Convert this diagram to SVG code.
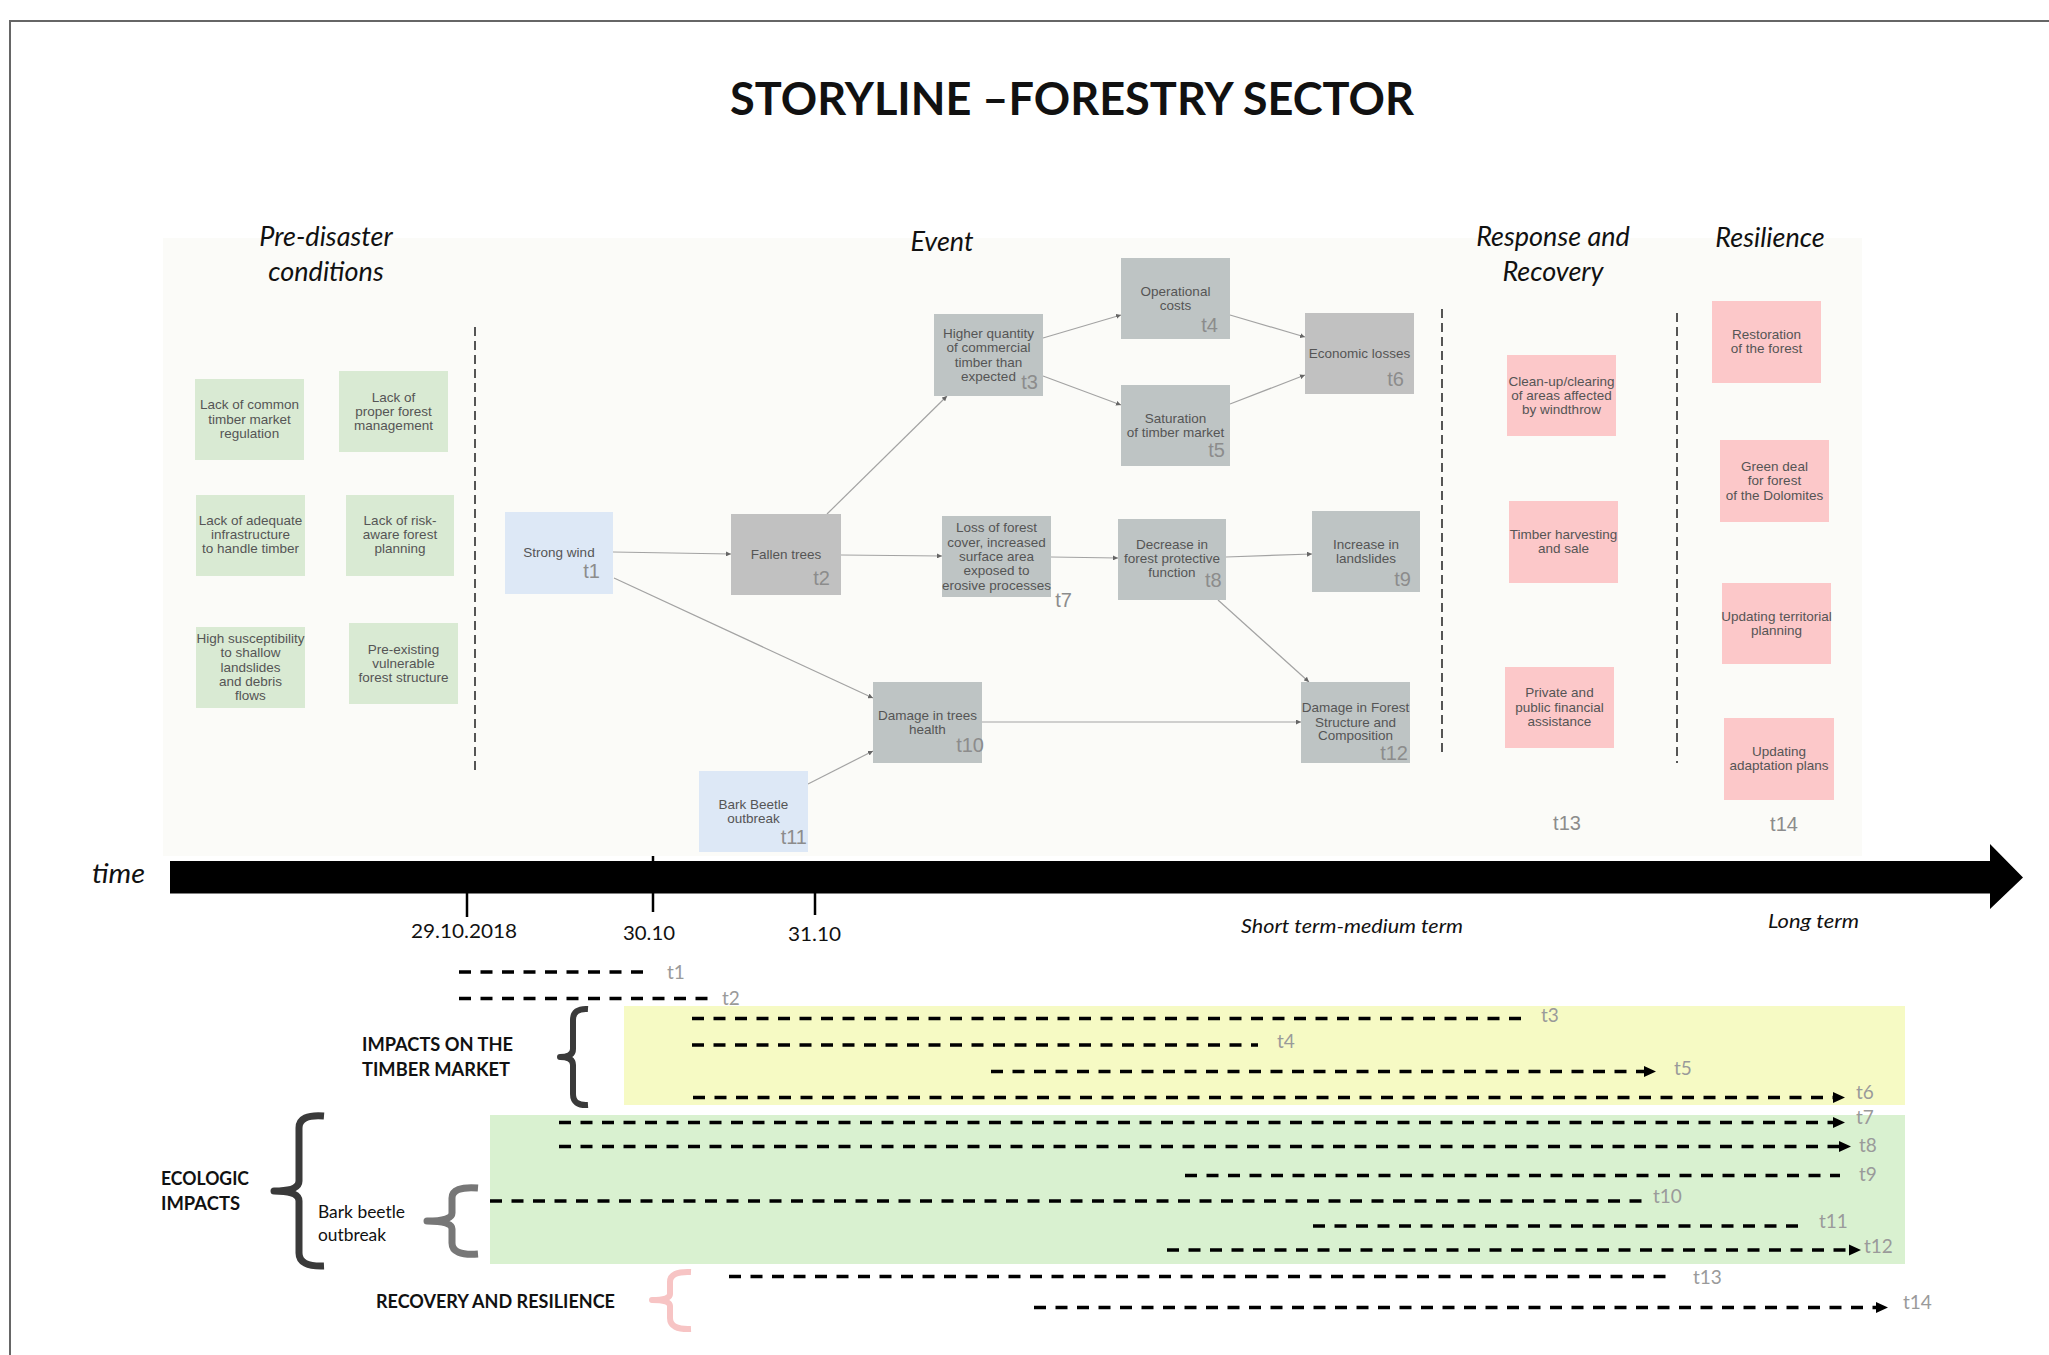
<svg xmlns="http://www.w3.org/2000/svg" width="2049" height="1355" viewBox="0 0 2049 1355">
<defs>
<style>
.nd text{font-family:"Liberation Sans",Arial,sans-serif;font-size:13.5px;fill:#555;text-anchor:middle}
.nd text.tl{font-size:20px;fill:#8c8c8c;text-anchor:end}
.gr rect{fill:#d9ead3}
.bl rect{fill:#dde8f6}
.gy rect{fill:#bec4c4}
.gy2 rect{fill:#c1c1c1}
.pk rect{fill:#fcc8c9}
.hd{font-family:Lato,"Liberation Sans",sans-serif;font-style:italic;font-size:27px;fill:#111;text-anchor:middle}
.cal{font-family:Lato,"Liberation Sans",sans-serif;fill:#111}
.lab{font-family:Lato,"Liberation Sans",sans-serif;font-size:19px;fill:#9a9a9a}
.con line{stroke:#a3a3a3;stroke-width:1.2;marker-end:url(#ah)}
.dl line{stroke:#000;stroke-width:3.5;stroke-dasharray:12 9.5}
.vd{stroke:#555;stroke-width:2;stroke-dasharray:9 5;fill:none}
.br{fill:none;stroke-linecap:butt;stroke-linejoin:round}
</style>
<marker id="ah" viewBox="0 0 6 6" refX="6" refY="3" markerWidth="5" markerHeight="5" markerUnits="userSpaceOnUse" orient="auto">
<path d="M0,0 L6,3 L0,6 z" fill="#666"/>
</marker>
</defs>
<rect width="2049" height="1355" fill="#fff"/>
<path d="M10,1355 L10,21 L2049,21" fill="none" stroke="#666" stroke-width="2"/>
<text x="730" y="115" class="cal" font-weight="700" font-size="45" textLength="684" lengthAdjust="spacingAndGlyphs">STORYLINE –FORESTRY SECTOR</text>
<rect x="163" y="238" width="1699" height="618" fill="#fbfbf8"/>

<g id="headings">
<text class="hd" x="326" y="246">Pre-disaster</text>
<text class="hd" x="326" y="281">conditions</text>
<text class="hd" x="942" y="251">Event</text>
<text class="hd" x="1553" y="246">Response and</text>
<text class="hd" x="1553" y="281">Recovery</text>
<text class="hd" x="1770" y="247">Resilience</text>
</g>
<g id="dividers">
<line class="vd" x1="475" y1="327" x2="475" y2="774"/>
<line class="vd" x1="1442" y1="309" x2="1442" y2="757"/>
<line class="vd" x1="1677" y1="313" x2="1677" y2="763"/>
</g>

<g id="connectors" class="con">
<line x1="613" y1="552" x2="731" y2="554"/>
<line x1="614" y1="578" x2="873" y2="698"/>
<line x1="841" y1="555" x2="942" y2="556"/>
<line x1="827" y1="514" x2="947" y2="396"/>
<line x1="1043" y1="338" x2="1121" y2="315"/>
<line x1="1043" y1="376" x2="1121" y2="405"/>
<line x1="1230" y1="315" x2="1305" y2="337"/>
<line x1="1230" y1="404" x2="1305" y2="375"/>
<line x1="1051" y1="557" x2="1118" y2="558"/>
<line x1="1226" y1="557" x2="1312" y2="554"/>
<line x1="1218" y1="600" x2="1309" y2="682"/>
<line x1="982" y1="722" x2="1301" y2="722"/>
<line x1="808" y1="784" x2="873" y2="751"/>
</g>

<g id="g1" class="nd gr"><rect x="195" y="379" width="109" height="81"/><text x="249.5" y="409">Lack of common</text><text x="249.5" y="423.5">timber market</text><text x="249.5" y="438">regulation</text></g>
<g id="g2" class="nd gr"><rect x="339" y="371" width="109" height="81"/><text x="393.5" y="402">Lack of</text><text x="393.5" y="416">proper forest</text><text x="393.5" y="430">management</text></g>
<g id="g3" class="nd gr"><rect x="196" y="495" width="109" height="81"/><text x="250.5" y="525">Lack of adequate</text><text x="250.5" y="539">infrastructure</text><text x="250.5" y="553">to handle timber</text></g>
<g id="g4" class="nd gr"><rect x="346" y="495" width="108" height="81"/><text x="400" y="525">Lack of risk-</text><text x="400" y="539">aware forest</text><text x="400" y="553">planning</text></g>
<g id="g5" class="nd gr"><rect x="196" y="627" width="109" height="81"/><text x="250.5" y="643">High susceptibility</text><text x="250.5" y="657">to shallow</text><text x="250.5" y="672">landslides</text><text x="250.5" y="686">and debris</text><text x="250.5" y="700">flows</text></g>
<g id="g6" class="nd gr"><rect x="349" y="623" width="109" height="81"/><text x="403.5" y="654">Pre-existing</text><text x="403.5" y="668">vulnerable</text><text x="403.5" y="682">forest structure</text></g>

<g id="n1" class="nd bl"><rect x="505" y="512" width="108" height="82"/><text x="559" y="557">Strong wind</text><text class="tl" x="600" y="578">t1</text></g>
<g id="n2" class="nd gy2"><rect x="731" y="514" width="110" height="81"/><text x="786" y="558.5">Fallen trees</text><text class="tl" x="830" y="585">t2</text></g>
<g id="n3" class="nd gy"><rect x="934" y="314" width="109" height="82"/><text x="988.5" y="338">Higher quantity</text><text x="988.5" y="352">of commercial</text><text x="988.5" y="366.5">timber than</text><text x="988.5" y="380.5">expected</text><text class="tl" x="1038" y="389">t3</text></g>
<g id="n4" class="nd gy"><rect x="1121" y="258" width="109" height="81"/><text x="1175.5" y="295.6">Operational</text><text x="1175.5" y="310">costs</text><text class="tl" x="1218" y="332">t4</text></g>
<g id="n5" class="nd gy"><rect x="1121" y="385" width="109" height="81"/><text x="1175.5" y="422.5">Saturation</text><text x="1175.5" y="437">of timber market</text><text class="tl" x="1225" y="456.6">t5</text></g>
<g id="n6" class="nd gy2"><rect x="1305" y="313" width="109" height="81"/><text x="1359.5" y="357.7">Economic losses</text><text class="tl" x="1404" y="386">t6</text></g>
<g id="n7" class="nd gy"><rect x="942" y="516" width="109" height="81"/><text x="996.5" y="532">Loss of forest</text><text x="996.5" y="546.7">cover, increased</text><text x="996.5" y="561">surface area</text><text x="996.5" y="575">exposed to</text><text x="996.5" y="590">erosive processes</text><text class="tl" x="1072" y="607">t7</text></g>
<g id="n8" class="nd gy"><rect x="1118" y="519" width="108" height="81"/><text x="1172" y="549">Decrease in</text><text x="1172" y="563">forest protective</text><text x="1172" y="577">function</text><text class="tl" x="1221.7" y="587">t8</text></g>
<g id="n9" class="nd gy"><rect x="1312" y="511" width="108" height="81"/><text x="1366" y="549">Increase in</text><text x="1366" y="563">landslides</text><text class="tl" x="1411" y="586">t9</text></g>
<g id="n10" class="nd gy"><rect x="873" y="682" width="109" height="81"/><text x="927.5" y="719.5">Damage in trees</text><text x="927.5" y="734">health</text><text class="tl" x="984" y="752">t10</text></g>
<g id="n11" class="nd bl"><rect x="699" y="771" width="109" height="81"/><text x="753.5" y="808.5">Bark Beetle</text><text x="753.5" y="823">outbreak</text><text class="tl" x="807" y="844">t11</text></g>
<g id="n12" class="nd gy"><rect x="1301" y="682" width="109" height="81"/><text x="1355.5" y="712">Damage in Forest</text><text x="1355.5" y="726.6">Structure and</text><text x="1355.5" y="740.4">Composition</text><text class="tl" x="1408" y="760">t12</text></g>

<g id="r1" class="nd pk"><rect x="1507" y="355" width="109" height="81"/><text x="1561.5" y="386">Clean-up/clearing</text><text x="1561.5" y="399.7">of areas affected</text><text x="1561.5" y="414">by windthrow</text></g>
<g id="r2" class="nd pk"><rect x="1509" y="501" width="109" height="82"/><text x="1563.5" y="539">Timber harvesting</text><text x="1563.5" y="553">and sale</text></g>
<g id="r3" class="nd pk"><rect x="1505" y="667" width="109" height="81"/><text x="1559.5" y="697">Private and</text><text x="1559.5" y="711.5">public financial</text><text x="1559.5" y="726">assistance</text></g>
<g id="s1" class="nd pk"><rect x="1712" y="301" width="109" height="82"/><text x="1766.5" y="339">Restoration</text><text x="1766.5" y="353">of the forest</text></g>
<g id="s2" class="nd pk"><rect x="1720" y="440" width="109" height="82"/><text x="1774.5" y="471">Green deal</text><text x="1774.5" y="485">for forest</text><text x="1774.5" y="499.7">of the Dolomites</text></g>
<g id="s3" class="nd pk"><rect x="1722" y="583" width="109" height="81"/><text x="1776.5" y="620.5">Updating territorial</text><text x="1776.5" y="635">planning</text></g>
<g id="s4" class="nd pk"><rect x="1724" y="718" width="110" height="82"/><text x="1779" y="756">Updating</text><text x="1779" y="770">adaptation plans</text></g>
<g id="tlabels" class="nd"><text class="tl" x="1567" y="830" style="text-anchor:middle">t13</text><text class="tl" x="1784" y="831" style="text-anchor:middle">t14</text></g>

<g id="timeline">
<polygon points="170,861 1990,861 1990,844 2023,877.5 1990,909 1990,893.5 170,893.5" fill="#000"/>
<line x1="467" y1="893" x2="467" y2="917" stroke="#000" stroke-width="2.5"/>
<line x1="653" y1="856" x2="653" y2="912" stroke="#000" stroke-width="2.5"/>
<line x1="815" y1="893" x2="815" y2="915" stroke="#000" stroke-width="2.5"/>
<text class="cal" x="92" y="883" font-style="italic" font-size="27" textLength="53" lengthAdjust="spacingAndGlyphs">time</text>
<text class="cal" x="411" y="938" font-size="20" textLength="106" lengthAdjust="spacingAndGlyphs">29.10.2018</text>
<text class="cal" x="623" y="940" font-size="20" textLength="52" lengthAdjust="spacingAndGlyphs">30.10</text>
<text class="cal" x="788" y="941" font-size="20" textLength="53" lengthAdjust="spacingAndGlyphs">31.10</text>
<text class="cal" x="1241" y="933" font-style="italic" font-size="20" textLength="222" lengthAdjust="spacingAndGlyphs">Short term-medium term</text>
<text class="cal" x="1768" y="928" font-style="italic" font-size="20" textLength="91" lengthAdjust="spacingAndGlyphs">Long term</text>
</g>

<g id="bands">
<rect x="624" y="1006" width="1281" height="99" fill="#f6fac4"/>
<rect x="490" y="1115" width="1415" height="149" fill="#d9f1d0"/>
</g>

<g id="braces">
<path class="br" stroke="#3a3a3a" stroke-width="6" d="M588,1009 Q573,1008 573,1020 L573,1049 Q573,1057 560,1057 Q573,1057 573,1065 L573,1094 Q573,1106 588,1105"/>
<path class="br" stroke="#3a3a3a" stroke-width="7" d="M324,1116 Q299,1114 299,1128 L299,1181 Q299,1191 274,1191 Q299,1191 299,1201 L299,1253 Q299,1267 324,1266"/>
<path class="br" stroke="#777" stroke-width="7" d="M478,1188 Q452,1186 452,1198 L452,1213 Q452,1221 427,1221 Q452,1221 452,1229 L452,1243 Q452,1256 478,1254"/>
<path class="br" stroke="#f7c4c4" stroke-width="6" d="M691,1272 Q670,1271 670,1282 L670,1294 Q670,1300 652,1300 Q670,1300 670,1306 L670,1318 Q670,1330 691,1329"/>
<text class="cal" x="362" y="1051" font-weight="700" font-size="18" textLength="151" lengthAdjust="spacingAndGlyphs">IMPACTS ON THE</text>
<text class="cal" x="362" y="1076" font-weight="700" font-size="18" textLength="148" lengthAdjust="spacingAndGlyphs">TIMBER MARKET</text>
<text class="cal" x="161" y="1185" font-weight="700" font-size="18" textLength="88" lengthAdjust="spacingAndGlyphs">ECOLOGIC</text>
<text class="cal" x="161" y="1210" font-weight="700" font-size="18" textLength="79" lengthAdjust="spacingAndGlyphs">IMPACTS</text>
<text class="cal" x="318" y="1218" font-size="18" fill="#222" textLength="87" lengthAdjust="spacingAndGlyphs">Bark beetle</text>
<text class="cal" x="318" y="1241" font-size="18" fill="#222" textLength="68" lengthAdjust="spacingAndGlyphs">outbreak</text>
<text class="cal" x="376" y="1308" font-weight="700" font-size="18" textLength="239" lengthAdjust="spacingAndGlyphs">RECOVERY AND RESILIENCE</text>
</g>

<g id="durations" class="dl">
<line x1="459" y1="972" x2="650" y2="972"/>
<line x1="459" y1="998.5" x2="716" y2="998.5"/>
<line x1="692" y1="1018.5" x2="1521" y2="1018.5"/>
<line x1="692" y1="1045" x2="1258" y2="1045"/>
<line x1="991" y1="1071.5" x2="1646" y2="1071.5"/>
<line x1="693" y1="1097.5" x2="1835" y2="1097.5"/>
<line x1="559" y1="1122.5" x2="1835" y2="1122.5"/>
<line x1="559" y1="1146.5" x2="1841" y2="1146.5"/>
<line x1="1185" y1="1175.5" x2="1840" y2="1175.5"/>
<line x1="490" y1="1201" x2="1645" y2="1201"/>
<line x1="1313" y1="1226" x2="1801" y2="1226"/>
<line x1="1167" y1="1250" x2="1851" y2="1250"/>
<line x1="729" y1="1276.5" x2="1672" y2="1276.5"/>
<line x1="1034" y1="1307.5" x2="1878" y2="1307.5"/>
</g>
<g id="arrowheads" fill="#000">
<polygon points="1644,1066 1656,1071.5 1644,1077"/>
<polygon points="1833,1092 1845,1097.5 1833,1103"/>
<polygon points="1833,1117 1845,1122.5 1833,1128"/>
<polygon points="1839,1141 1851,1146.5 1839,1152"/>
<polygon points="1849,1244.5 1861,1250 1849,1255.5"/>
<polygon points="1876,1302 1888,1307.5 1876,1313"/>
</g>
<g id="duration-labels" class="lab">
<text x="667" y="979">t1</text>
<text x="722" y="1005">t2</text>
<text x="1541" y="1022">t3</text>
<text x="1277" y="1048">t4</text>
<text x="1674" y="1075">t5</text>
<text x="1856" y="1099">t6</text>
<text x="1856" y="1124">t7</text>
<text x="1859" y="1152">t8</text>
<text x="1859" y="1181">t9</text>
<text x="1653" y="1203">t10</text>
<text x="1819" y="1228">t11</text>
<text x="1864" y="1253">t12</text>
<text x="1693" y="1284">t13</text>
<text x="1903" y="1309">t14</text>
</g>
</svg>
